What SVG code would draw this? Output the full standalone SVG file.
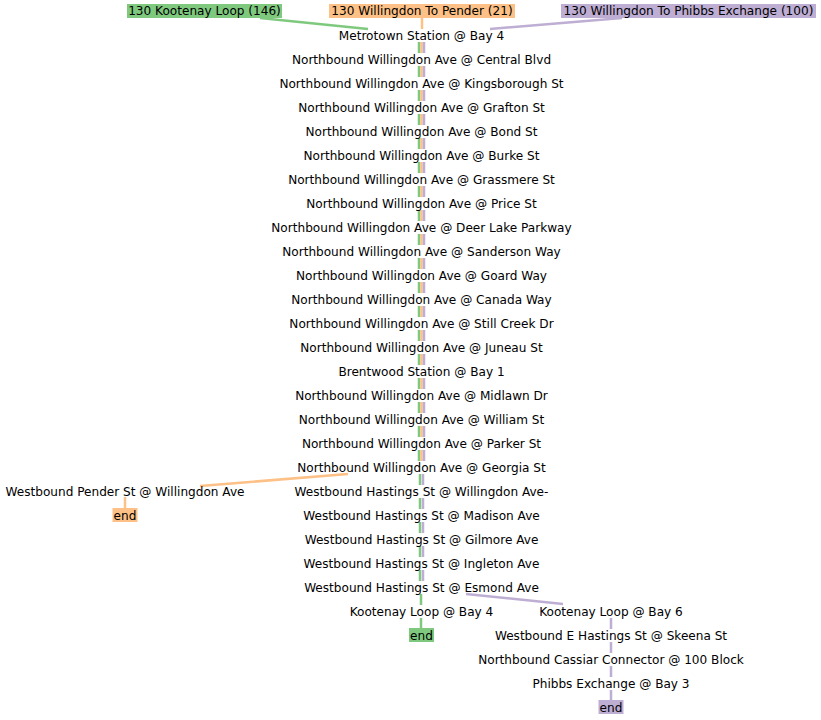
<svg xmlns="http://www.w3.org/2000/svg" width="821" height="720" viewBox="0 0 821 720">
<style>
text{font-family:"DejaVu Sans",sans-serif;font-size:12.1px;fill:#000;text-anchor:middle}
.g{stroke:#7fc97f;stroke-width:2.5;fill:none}
.o{stroke:#fdc086;stroke-width:2.5;fill:none}
.p{stroke:#beaed4;stroke-width:2.5;fill:none}
.fg{fill:#7fc97f}.fo{fill:#fdc086}.fp{fill:#beaed4}
</style>
<rect width="821" height="720" fill="#fff"/>
<g id="connectors">
<path class="g" d="M260,18 L368,29"/>
<path class="o" d="M422,18 L422,29"/>
<path class="p" d="M622,18 L490,29"/>
<path class="g" d="M419,42V53M419,66V77M419,90V101M419,114V125M419,138V149M419,162V173M419,186V197M419,210V221M419,234V245M419,258V269M419,282V293M419,306V317M419,330V341M419,354V365M419,378V389M419,402V413M419,426V437M419,450V461"/>
<path class="o" d="M421.5,42V53M421.5,66V77M421.5,90V101M421.5,114V125M421.5,138V149M421.5,162V173M421.5,186V197M421.5,210V221M421.5,234V245M421.5,258V269M421.5,282V293M421.5,306V317M421.5,330V341M421.5,354V365M421.5,378V389M421.5,402V413M421.5,426V437M421.5,450V461"/>
<path class="p" d="M424,42V53M424,66V77M424,90V101M424,114V125M424,138V149M424,162V173M424,186V197M424,210V221M424,234V245M424,258V269M424,282V293M424,306V317M424,330V341M424,354V365M424,378V389M424,402V413M424,426V437M424,450V461"/>
<path class="g" d="M420,474V485M420,498V509M420,522V533M420,546V557M420,570V581"/>
<path class="p" d="M423,474V485M423,498V509M423,522V533M423,546V557M423,570V581"/>
<path class="o" d="M348,474L200,486"/>
<path class="o" d="M125,497V508"/>
<path class="g" d="M421,594V605M421,618V628"/>
<path class="p" d="M466,594L563,604"/>
<path class="p" d="M611,618V629M611,642V653M611,666V677M611,690V700"/>
</g>
<g id="h_green"><rect class="fg" x="127" y="4" width="155" height="14"/><text x="204.5" y="15">130 Kootenay Loop (146)</text></g>
<g id="h_orange"><rect class="fo" x="329" y="4" width="186" height="14"/><text x="422" y="15">130 Willingdon To Pender (21)</text></g>
<g id="h_purple"><rect class="fp" x="561" y="4" width="255" height="14"/><text x="688.5" y="15">130 Willingdon To Phibbs Exchange (100)</text></g>
<g id="n0"><text x="421.5" y="39.5">Metrotown Station @ Bay 4</text></g>
<g id="n1"><text x="421.5" y="63.5">Northbound Willingdon Ave @ Central Blvd</text></g>
<g id="n2"><text x="421.5" y="87.5">Northbound Willingdon Ave @ Kingsborough St</text></g>
<g id="n3"><text x="421.5" y="111.5">Northbound Willingdon Ave @ Grafton St</text></g>
<g id="n4"><text x="421.5" y="135.5">Northbound Willingdon Ave @ Bond St</text></g>
<g id="n5"><text x="421.5" y="159.5">Northbound Willingdon Ave @ Burke St</text></g>
<g id="n6"><text x="421.5" y="183.5">Northbound Willingdon Ave @ Grassmere St</text></g>
<g id="n7"><text x="421.5" y="207.5">Northbound Willingdon Ave @ Price St</text></g>
<g id="n8"><text x="421.5" y="231.5">Northbound Willingdon Ave @ Deer Lake Parkway</text></g>
<g id="n9"><text x="421.5" y="255.5">Northbound Willingdon Ave @ Sanderson Way</text></g>
<g id="n10"><text x="421.5" y="279.5">Northbound Willingdon Ave @ Goard Way</text></g>
<g id="n11"><text x="421.5" y="303.5">Northbound Willingdon Ave @ Canada Way</text></g>
<g id="n12"><text x="421.5" y="327.5">Northbound Willingdon Ave @ Still Creek Dr</text></g>
<g id="n13"><text x="421.5" y="351.5">Northbound Willingdon Ave @ Juneau St</text></g>
<g id="n14"><text x="421.5" y="375.5">Brentwood Station @ Bay 1</text></g>
<g id="n15"><text x="421.5" y="399.5">Northbound Willingdon Ave @ Midlawn Dr</text></g>
<g id="n16"><text x="421.5" y="423.5">Northbound Willingdon Ave @ William St</text></g>
<g id="n17"><text x="421.5" y="447.5">Northbound Willingdon Ave @ Parker St</text></g>
<g id="n18"><text x="421.5" y="471.5">Northbound Willingdon Ave @ Georgia St</text></g>
<g id="n19"><text x="421.5" y="495.5">Westbound Hastings St @ Willingdon Ave-</text></g>
<g id="n20"><text x="421.5" y="519.5">Westbound Hastings St @ Madison Ave</text></g>
<g id="n21"><text x="421.5" y="543.5">Westbound Hastings St @ Gilmore Ave</text></g>
<g id="n22"><text x="421.5" y="567.5">Westbound Hastings St @ Ingleton Ave</text></g>
<g id="n23"><text x="421.5" y="591.5">Westbound Hastings St @ Esmond Ave</text></g>
<g id="n24"><text x="421.5" y="615.5">Kootenay Loop @ Bay 4</text></g>
<g id="end_green"><rect class="fg" x="409" y="628" width="25" height="14"/><text x="421.5" y="639.5">end</text></g>
<g id="p0"><text x="125" y="495.5">Westbound Pender St @ Willingdon Ave</text></g>
<g id="end_orange"><rect class="fo" x="112.5" y="508" width="25" height="14"/><text x="125" y="519.5">end</text></g>
<g id="k0"><text x="611" y="615.5">Kootenay Loop @ Bay 6</text></g>
<g id="k1"><text x="611" y="639.5">Westbound E Hastings St @ Skeena St</text></g>
<g id="k2"><text x="611" y="663.5">Northbound Cassiar Connector @ 100 Block</text></g>
<g id="k3"><text x="611" y="687.5">Phibbs Exchange @ Bay 3</text></g>
<g id="end_purple"><rect class="fp" x="598.5" y="700" width="25" height="14"/><text x="611" y="711.5">end</text></g>
</svg>
